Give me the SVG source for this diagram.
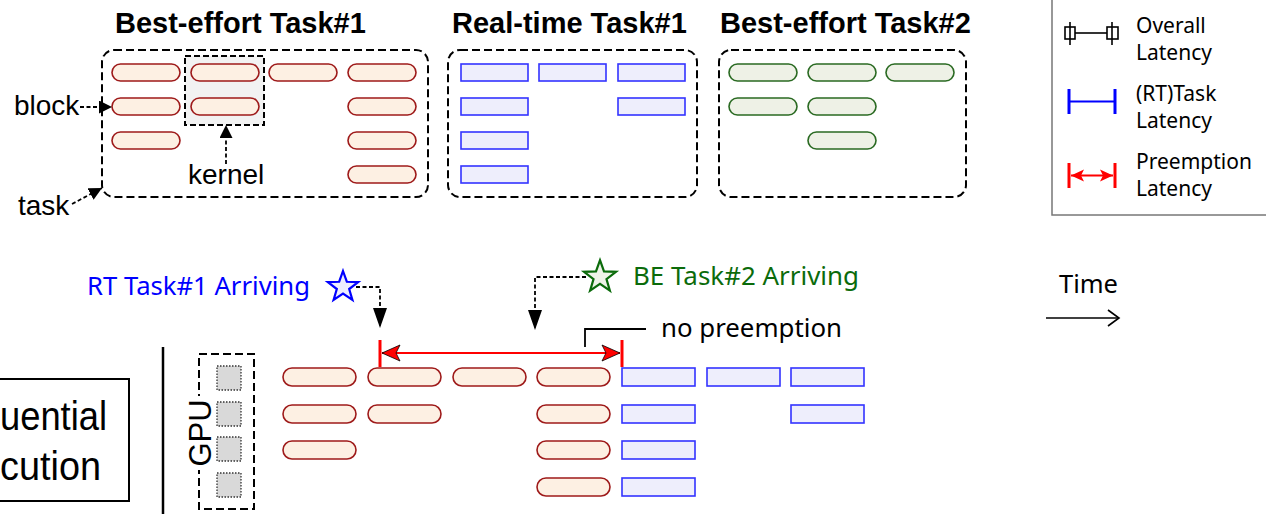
<svg xmlns="http://www.w3.org/2000/svg" width="1266" height="514" viewBox="0 0 1266 514">
  <style>
    .title { font-family: "Liberation Sans", Arial, sans-serif; font-weight: bold; font-size: 29px; fill: #000; }
    .lbl { font-family: "Liberation Sans", Arial, sans-serif; font-size: 28px; fill: #000; }
    .big { font-size: 40px; }
    .gpu { font-size: 31px; }
    .ui { font-family: "Noto Sans", "Open Sans", sans-serif; fill: #000; }
    .task { fill: none; stroke: #000; stroke-width: 2; stroke-dasharray: 8 4; }
    .be { fill: #fdf0e3; stroke: #9e1a1a; stroke-width: 1.6; }
    .rt { fill: #eeeefc; stroke: #3333ff; stroke-width: 1.6; }
    .be2 { fill: #eef1e6; stroke: #2a6a22; stroke-width: 1.6; }
    .sm { fill: #d9d9d9; stroke: #333; stroke-width: 1.3; stroke-dasharray: 1.5 1.5; }
    .dcon { fill: none; stroke: #000; stroke-width: 1.8; stroke-dasharray: 4 2.5; }
    .red { stroke: #ff0000; stroke-width: 3; fill: none; }
  </style>
  <defs>
    <marker id="headS" markerUnits="userSpaceOnUse" markerWidth="13" markerHeight="13" refX="13" refY="6.5" orient="auto">
      <path d="M0,0 L13,6.5 L0,13 z" fill="#000"/>
    </marker>
    <marker id="headL" markerUnits="userSpaceOnUse" markerWidth="20" markerHeight="14" refX="20" refY="7" orient="auto">
      <path d="M0,0 L20,7 L0,14 z" fill="#000"/>
    </marker>
    <marker id="redHead" markerUnits="userSpaceOnUse" markerWidth="20" markerHeight="18" refX="19" refY="9" orient="auto-start-reverse">
      <path d="M1,1 L19,9 L1,17 L5,9 z" fill="#ff0000" stroke="#000" stroke-width="0.8"/>
    </marker>
    <marker id="redHeadS" markerUnits="userSpaceOnUse" markerWidth="14" markerHeight="14" refX="13" refY="7" orient="auto-start-reverse">
      <path d="M0,1 L13,7 L0,13 L3,7 z" fill="#ff0000"/>
    </marker>
    <path id="star" d="M0,-16 L3.82,-5.26 L15.22,-4.94 L6.18,2.01 L9.4,12.94 L0,6.5 L-9.4,12.94 L-6.18,2.01 L-15.22,-4.94 L-3.82,-5.26 Z"/>
  </defs>

  <!-- Task: Best-effort Task#1 -->
  <g id="be-task1">
    <text class="title" x="115" y="33">Best-effort Task#1</text>
    <rect class="task" x="102" y="50" width="326" height="147" rx="12"/>
    <rect x="185" y="56" width="79" height="69" fill="#f2f2f2" stroke="#000" stroke-width="2" stroke-dasharray="6 3"/>
    <rect class="be" x="112" y="64" width="68" height="17" rx="8.5"/>
    <rect class="be" x="112" y="98" width="68" height="17" rx="8.5"/>
    <rect class="be" x="112" y="132" width="68" height="17" rx="8.5"/>
    <rect class="be" x="191" y="64" width="68" height="17" rx="8.5"/>
    <rect class="be" x="191" y="98" width="68" height="17" rx="8.5"/>
    <rect class="be" x="269" y="64" width="68" height="17" rx="8.5"/>
    <rect class="be" x="348" y="64" width="68" height="17" rx="8.5"/>
    <rect class="be" x="348" y="98" width="68" height="17" rx="8.5"/>
    <rect class="be" x="348" y="132" width="68" height="17" rx="8.5"/>
    <rect class="be" x="348" y="166" width="68" height="17" rx="8.5"/>
  </g>

  <!-- Task: Real-time Task#1 -->
  <g id="rt-task1">
    <text class="title" x="452" y="33">Real-time Task#1</text>
    <rect class="task" x="448" y="50" width="249" height="147" rx="12"/>
    <rect class="rt" x="461" y="64" width="67" height="17"/>
    <rect class="rt" x="461" y="98" width="67" height="17"/>
    <rect class="rt" x="461" y="132" width="67" height="17"/>
    <rect class="rt" x="461" y="166" width="67" height="17"/>
    <rect class="rt" x="539" y="64" width="67" height="17"/>
    <rect class="rt" x="618" y="64" width="67" height="17"/>
    <rect class="rt" x="618" y="98" width="67" height="17"/>
  </g>

  <!-- Task: Best-effort Task#2 -->
  <g id="be-task2">
    <text class="title" x="720" y="33">Best-effort Task#2</text>
    <rect class="task" x="719" y="50" width="247" height="147" rx="12"/>
    <rect class="be2" x="729" y="64" width="68" height="17" rx="8.5"/>
    <rect class="be2" x="729" y="98" width="68" height="17" rx="8.5"/>
    <rect class="be2" x="808" y="64" width="68" height="17" rx="8.5"/>
    <rect class="be2" x="808" y="98" width="68" height="17" rx="8.5"/>
    <rect class="be2" x="808" y="132" width="68" height="17" rx="8.5"/>
    <rect class="be2" x="886" y="64" width="68" height="17" rx="8.5"/>
  </g>

  <!-- Annotation labels for the task anatomy -->
  <g id="anatomy-labels">
    <text class="lbl" x="14" y="115">block</text>
    <text class="lbl" x="188" y="184">kernel</text>
    <text class="lbl" x="18" y="215">task</text>
  </g>

  <!-- Legend -->
  <g id="legend">
    <rect x="1052" y="-5" width="230" height="220" fill="#fff" stroke="#777" stroke-width="1.5"/>
    <g stroke="#000" stroke-width="1.6" fill="none">
      <line x1="1075" y1="33" x2="1107" y2="33"/>
      <rect x="1065" y="27" width="10" height="12"/>
      <line x1="1070" y1="22" x2="1070" y2="45"/>
      <rect x="1107" y="27" width="11" height="12"/>
      <line x1="1112" y1="22" x2="1112" y2="45"/>
    </g>
    <g stroke="#0000ff" stroke-width="3">
      <line x1="1069" y1="89" x2="1069" y2="114"/>
      <line x1="1115" y1="89" x2="1115" y2="114"/>
      <line x1="1069" y1="101.5" x2="1115" y2="101.5" stroke-width="2"/>
    </g>
    <g stroke="#ff0000" stroke-width="3">
      <line x1="1069" y1="163" x2="1069" y2="188"/>
      <line x1="1115" y1="163" x2="1115" y2="188"/>
      <line x1="1071" y1="175.5" x2="1113" y2="175.5" stroke-width="2" marker-start="url(#redHeadS)" marker-end="url(#redHeadS)"/>
    </g>
    <g class="ui" font-size="21">
      <text x="1136" y="33">Overall</text>
      <text x="1136" y="60">Latency</text>
      <text x="1136" y="101">(RT)Task</text>
      <text x="1136" y="128">Latency</text>
      <text x="1136" y="169">Preemption</text>
      <text x="1136" y="196">Latency</text>
    </g>
  </g>

  <!-- Execution mode box -->
  <g id="mode">
    <rect x="-10" y="379" width="139" height="122" fill="#fff" stroke="#000" stroke-width="2"/>
    <text class="lbl big" x="107" y="430" text-anchor="end" textLength="107" lengthAdjust="spacingAndGlyphs">uential</text>
    <text class="lbl big" x="101" y="480" text-anchor="end" textLength="101" lengthAdjust="spacingAndGlyphs">cution</text>
    <line x1="163" y1="347" x2="163" y2="514" stroke="#000" stroke-width="2.5"/>
  </g>

  <!-- GPU with its compute units -->
  <g id="gpu">
    <rect class="task" x="199" y="354" width="55" height="155"/>
    <rect x="186" y="396" width="24" height="74" fill="#fff"/>
    <text class="lbl gpu" transform="translate(211,433) rotate(-90)" text-anchor="middle">GPU</text>
    <rect class="sm" x="217" y="366" width="24" height="24"/>
    <rect class="sm" x="217" y="402" width="24" height="24"/>
    <rect class="sm" x="217" y="437" width="24" height="24"/>
    <rect class="sm" x="217" y="473" width="24" height="24"/>
  </g>

  <!-- Timeline: Best-effort Task#1 blocks -->
  <g id="timeline-be1">
    <rect class="be" x="283" y="368" width="73" height="18" rx="9"/>
    <rect class="be" x="283" y="405" width="73" height="18" rx="9"/>
    <rect class="be" x="283" y="441" width="73" height="18" rx="9"/>
    <rect class="be" x="368" y="368" width="73" height="18" rx="9"/>
    <rect class="be" x="368" y="405" width="73" height="18" rx="9"/>
    <rect class="be" x="453" y="368" width="73" height="18" rx="9"/>
    <rect class="be" x="537" y="368" width="73" height="18" rx="9"/>
    <rect class="be" x="537" y="405" width="73" height="18" rx="9"/>
    <rect class="be" x="537" y="441" width="73" height="18" rx="9"/>
    <rect class="be" x="537" y="478" width="73" height="18" rx="9"/>
  </g>

  <!-- Timeline: Real-time Task#1 blocks -->
  <g id="timeline-rt1">
    <rect class="rt" x="622" y="368" width="73" height="18"/>
    <rect class="rt" x="622" y="405" width="73" height="18"/>
    <rect class="rt" x="622" y="441" width="73" height="18"/>
    <rect class="rt" x="622" y="478" width="73" height="18"/>
    <rect class="rt" x="707" y="368" width="73" height="18"/>
    <rect class="rt" x="791" y="368" width="73" height="18"/>
    <rect class="rt" x="791" y="405" width="73" height="18"/>
  </g>

  <!-- Arrival events -->
  <g id="rt-arrival">
    <use href="#star" x="343" y="287" fill="#eeeeff" stroke="#0000ff" stroke-width="2.2"/>
    <text class="ui" x="87" y="295" font-size="25" style="fill:#0000ff" textLength="223" lengthAdjust="spacingAndGlyphs">RT Task#1 Arriving</text>
  </g>
  <g id="be2-arrival">
    <use href="#star" transform="translate(600,277) scale(1.05)" fill="#eef3e8" stroke="#0b6b0b" stroke-width="2.1"/>
    <text class="ui" x="633" y="285" font-size="25" style="fill:#0b6b0b" textLength="226" lengthAdjust="spacingAndGlyphs">BE Task#2 Arriving</text>
  </g>
  <g id="no-preemption">
    <text class="ui" x="661" y="337" font-size="25" textLength="181" lengthAdjust="spacingAndGlyphs">no preemption</text>
  </g>
  <g id="time-axis">
    <text class="ui" x="1059" y="293" font-size="25" textLength="59" lengthAdjust="spacingAndGlyphs">Time</text>
    <line x1="1046" y1="318" x2="1119" y2="318" stroke="#000" stroke-width="1.6"/>
    <path d="M1108,310 L1119,318 L1108,326" fill="none" stroke="#000" stroke-width="1.6"/>
  </g>

  <!-- Connectors -->
  <g id="connectors">
    <path class="dcon" d="M80,107 H112" marker-end="url(#headS)"/>
    <path class="dcon" d="M226,164 V125" marker-end="url(#headS)"/>
    <path class="dcon" d="M72,204 L102,188" marker-end="url(#headS)"/>
    <path class="dcon" d="M356,287 H380 V328" marker-end="url(#headL)"/>
    <path class="dcon" d="M586,277 H535 V330" marker-end="url(#headL)"/>
    <path d="M585,347 V329 H646" fill="none" stroke="#000" stroke-width="1.8"/>
    <line class="red" x1="380" y1="340" x2="380" y2="367"/>
    <line class="red" x1="622" y1="340" x2="622" y2="367"/>
    <line x1="382" y1="353" x2="620" y2="353" stroke="#ff0000" stroke-width="2.2" marker-start="url(#redHead)" marker-end="url(#redHead)"/>
  </g>
</svg>
